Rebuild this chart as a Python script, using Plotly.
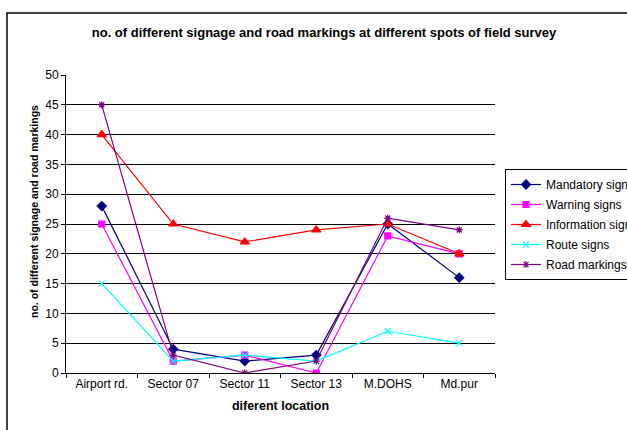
import plotly.graph_objects as go

locations = ["Airport rd.", "Sector 07", "Sector 11", "Sector 13", "M.DOHS", "Md.pur"]
mandatory = [28, 4, 2, 3, 25, 16]
warning = [25, 2, 3, 0, 23, 20]
information = [40, 25, 22, 24, 25, 20]
route = [15, 2, 3, 2, 7, 5]
road_markings = [45, 3, 0, 2, 26, 24]

series = [
    ("Mandatory signs", mandatory, "#000080", "diamond", 7),
    ("Warning signs", warning, "#FF00FF", "square", 6),
    ("Information signs", information, "#FF0000", "triangle-up", 8),
    ("Route signs", route, "#00FFFF", "x-thin-open", 6),
    ("Road markings", road_markings, "#800080", "asterisk-open", 6),
]

fig = go.Figure()
for i, (name, vals, color, sym, size) in enumerate(series):
    fig.add_trace(go.Scatter(
        x=locations, y=vals, name=name, mode="lines+markers",
        legendgroup=f"g{i}",
        line=dict(color=color, width=1.2),
        marker=dict(symbol=sym, size=size, color=color,
                    line=dict(color=color, width=1.2)),
    ))

W, H = 627, 430
L, R, T, B = 66, 495, 75, 373

fig.update_layout(
    width=W, height=H,
    margin=dict(l=L, r=W - R, t=T, b=H - B, autoexpand=False),
    paper_bgcolor="white", plot_bgcolor="white",
    font=dict(family="Arial, Liberation Sans, sans-serif", size=12, color="black"),
    title=dict(text="<b>no. of different signage and road markings at different spots of field survey</b>",
               x=324 / W, xanchor="center", y=1 - 32 / H, yanchor="middle",
               font=dict(size=13)),
    showlegend=True,
    legend=dict(xref="container", yref="container",
                x=505 / W, y=1 - 169 / H, xanchor="left", yanchor="top",
                bordercolor="black", borderwidth=1, bgcolor="white",
                font=dict(size=12), itemwidth=30, tracegroupgap=1),
    xaxis=dict(
        type="category", showline=True, linecolor="black", linewidth=1,
        ticks="outside", tickson="boundaries", ticklen=4, tickcolor="black",
        showgrid=False, zeroline=False, automargin=False,
        title=dict(text="<b>diferent location</b>", font=dict(size=12.5), standoff=10),
        range=[-0.5, 5.5],
    ),
    yaxis=dict(
        range=[0, 50], dtick=5, showline=True, linecolor="black", linewidth=1,
        ticks="outside", ticklen=4, tickcolor="black", automargin=False,
        showgrid=True, gridcolor="black", gridwidth=1, zeroline=False,
    ),
    annotations=[dict(text="<b>no. of different signage and road markings</b>",
                      xref="paper", yref="paper",
                      x=(34 - L) / (R - L), y=(B - 212) / (B - T),
                      xanchor="center", yanchor="middle", textangle=-90,
                      showarrow=False, font=dict(size=10.5))],
    shapes=[dict(type="rect", xref="paper", yref="paper",
                 x0=(7 - L) / (R - L), x1=(640 - L) / (R - L),
                 y0=(B - 440) / (B - T), y1=(B - 13) / (B - T),
                 line=dict(color="black", width=1.5), fillcolor="rgba(0,0,0,0)", layer="below")],
)

fig.write_html("out.html", config={"displayModeBar": False},
               post_script="document.body.style.margin='0';document.body.style.overflow='hidden';")
